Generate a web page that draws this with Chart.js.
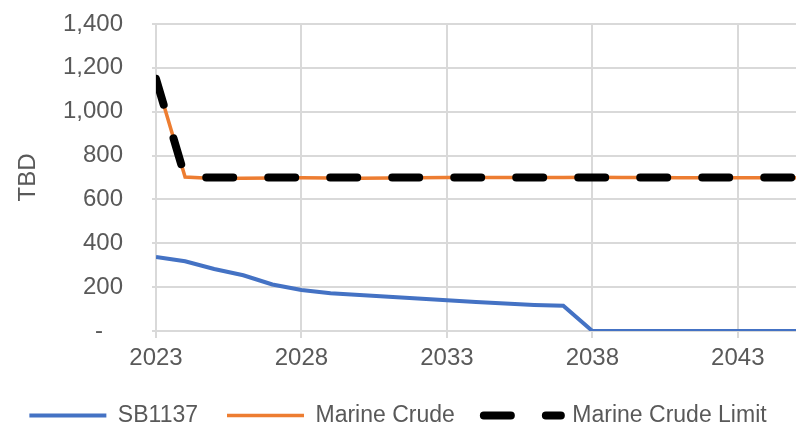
<!DOCTYPE html>
<html lang="en">
<head>
  <meta charset="UTF-8" />
  <title>Marine Crude vs SB1137</title>
  <script src="https://cdn.jsdelivr.net/npm/chart.js"></script>
  <style>
    html, body { margin: 0; background: #fff; }
    #wrap { width: 796px; height: 423px; }
  </style>
</head>
<body>
  <div id="wrap"><canvas id="crudeChart"></canvas></div>

  <script>
    // Datos por año (TBD)
    const years = [2023, 2024, 2025, 2026, 2027, 2028, 2029, 2030, 2031, 2032, 2033, 2034,
                   2035, 2036, 2037, 2038, 2039, 2040, 2041, 2042, 2043, 2044, 2045];
    const sb1137 = [338, 318, 283, 254, 212, 187, 172, 164, 156, 148, 140, 132,
                    125, 119, 115, 0, 0, 0, 0, 0, 0, 0, 0];
    const marineCrude = [1150, 702, 695, 697, 698, 699, 698, 697, 698, 699, 700, 700,
                         700, 700, 700, 701, 700, 700, 699, 699, 699, 699, 699];
    const marineCrudeLimit = [1150, 700, 700, 700, 700, 700, 700, 700, 700, 700, 700, 700,
                              700, 700, 700, 700, 700, 700, 700, 700, 700, 700, 700];
    const yearTicks = [2023, 2028, 2033, 2038, 2043];

    const gris = '#595959';
    const rejilla = '#D9D9D9';
    const fuente = { family: '"Liberation Sans", Arial, sans-serif', size: 24 };

    const puntos = serie => years.map((y, i) => ({ x: y, y: serie[i] }));

    // la leyenda con pointStyle no copia el trazo discontinuo del dataset
    const etiquetas = chart =>
      Chart.defaults.plugins.legend.labels.generateLabels(chart).map(item => {
        const ds = chart.data.datasets[item.datasetIndex];
        item.lineDash = ds.borderDash || [];
        item.lineCap = ds.borderCapStyle || 'butt';
        return item;
      });

    new Chart(document.getElementById('crudeChart'), {
      type: 'line',
      data: {
        datasets: [
          {
            label: 'SB1137',
            data: puntos(sb1137),
            borderColor: '#4472C4',
            borderWidth: 4,
            pointRadius: 0,
            pointStyle: 'line',
            tension: 0,
            order: 2
          },
          {
            label: 'Marine Crude',
            data: puntos(marineCrude),
            borderColor: '#ED7D31',
            borderWidth: 3.5,
            pointRadius: 0,
            pointStyle: 'line',
            tension: 0,
            order: 1
          },
          {
            // encima de la línea naranja
            label: 'Marine Crude Limit',
            data: puntos(marineCrudeLimit),
            borderColor: '#000000',
            borderWidth: 8,
            borderDash: [27, 35],
            borderCapStyle: 'round',
            pointRadius: 0,
            pointStyle: 'line',
            tension: 0,
            order: 0
          }
        ]
      },
      options: {
        responsive: true,
        maintainAspectRatio: false,
        animation: false,
        events: [],
        layout: { padding: { left: 0, right: 0, top: 24, bottom: -14 } },
        plugins: {
          tooltip: { enabled: false },
          legend: {
            position: 'bottom',
            labels: {
              usePointStyle: true,
              pointStyleWidth: 77,
              padding: 29,
              color: gris,
              font: { family: fuente.family, size: 23 },
              generateLabels: etiquetas,
              sort: (a, b) => a.datasetIndex - b.datasetIndex
            }
          }
        },
        scales: {
          x: {
            type: 'linear',
            min: 2023,
            max: 2045,
            afterBuildTicks: s => { s.ticks = yearTicks.map(v => ({ value: v })); },
            afterFit: s => { s.height = 44; },
            ticks: {
              color: gris,
              font: fuente,
              padding: 6,
              maxRotation: 0,
              callback: v => String(v)
            },
            grid: { color: rejilla, lineWidth: 2, tickLength: 7 },
            border: { color: rejilla, width: 2 }
          },
          y: {
            min: 0,
            max: 1400,
            // ancho fijo del eje y sin margen extra arriba
            afterFit: s => { s.width = 156; s.paddingTop = 0; },
            ticks: {
              stepSize: 200,
              autoSkip: false,
              color: gris,
              font: fuente,
              padding: 29,
              callback: v => v === 0 ? '-   ' : v.toLocaleString('en-US')
            },
            grid: { color: rejilla, lineWidth: 2, tickLength: 4 },
            border: { color: rejilla, width: 2 },
            title: {
              display: true,
              text: 'TBD',
              color: gris,
              font: fuente,
              padding: { top: 14, bottom: 0 }
            }
          }
        }
      }
    });
  </script>
</body>
</html>
